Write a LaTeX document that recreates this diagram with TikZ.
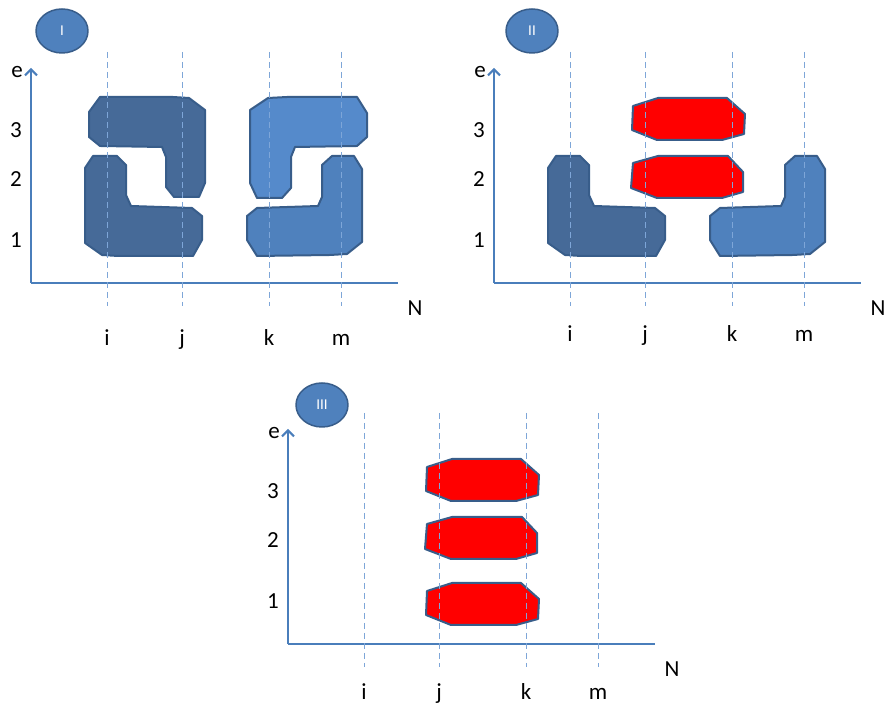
\documentclass[tikz,border=0pt]{standalone}
\usepackage{fontspec}
\setmainfont{Carlito}
\usetikzlibrary{arrows.meta,shapes.geometric}
\definecolor{axisblue}{HTML}{4A7EBB}
\definecolor{gridblue}{HTML}{7EA6D8}
\definecolor{edgeblue}{HTML}{385D8A}
\definecolor{darkpiece}{HTML}{466A98}
\definecolor{midpiece}{HTML}{4F81BD}
\definecolor{lightpiece}{HTML}{558ACB}
\begin{document}
\begin{tikzpicture}[x=0.5pt,y=-0.5pt,line join=round,>={Straight Barb[length=3pt,width=6pt]}]
  \tikzset{label style/.style={font=\fontsize{11.5}{13}\selectfont,inner sep=1pt},
    axis line/.style={axisblue,line width=1pt},
    grid line/.style={gridblue,line width=0.5pt,dash pattern=on 3pt off 2pt},
    piece/.style={draw=edgeblue,line width=1pt},
    tag/.style={ellipse,fill=midpiece,draw=edgeblue,line width=0.75pt,minimum width=26pt,
      minimum height=22pt,inner sep=0pt,text=white,font=\fontsize{7.5}{9}\selectfont}}
  \useasboundingbox (0,0) rectangle (885,704);
  % pieces, in the frame of panel I
  \def\darktop{(100,97)--(173,97)--(189,98)--(205,110)--(205,183)--(199,197)--(174,197)--(166,187)--(166,157)--(162,147)--(100,146)--(89,137)--(89,112)--cycle}
  \def\darkbot{(93,156)--(117,156)--(126,165)--(126,195)--(131,206)--(192,208)--(202,216)--(202,240)--(193,256)--(118,256)--(102,255)--(85,243)--(85,168)--cycle}
  \def\lighttop{(287,97)--(357,97)--(367,113)--(367,137)--(357,146)--(295,147)--(291,157)--(291,188)--(282,198)--(257,198)--(250,183)--(250,110)--(268,98)--cycle}
  \def\midbot{(332,156)--(354,156)--(362,169)--(362,242)--(347,254)--(330,255)--(257,256)--(247,240)--(247,216)--(257,208)--(318,206)--(322,197)--(322,165)--cycle}
  \def\redup{(170,106)--(195,98)--(264,98)--(282,114)--(281,134)--(259,140)--(194,140)--(169,130)--cycle}
  \def\redmid{(170,163)--(195,156)--(265,156)--(280,172)--(280,192)--(259,198)--(194,198)--(168,188)--cycle}
  % axes and labels of one panel: #1 panel, #2 baseline of i j k m
  \def\panelaxes#1#2{
    \coordinate (o#1) at (31,283);
    \coordinate (ytop#1) at (31,68);
    \coordinate (xend#1) at (398,283);
    \draw[axis line,->] (o#1) -- (ytop#1);
    \draw[axis line] (o#1) -- (xend#1);
    \node[label style] (e#1) at (17,72) {e};
    \node[label style] (N#1) at (415,308) {N};
    \foreach \y/\yy in {3/130,2/179,1/240}
      \node[label style] (t\y#1) at (16,\yy) {\y};
    \foreach \lab/\xx in {i/107,j/182,k/269,m/341}
      \node[label style,anchor=base] (\lab#1) at (\xx,#2) {\lab};
  }
  \def\gridlines{
    \foreach \xx in {107,182,269,341}
      \draw[grid line] (\xx,52) -- (\xx,306);
  }
  % panel I
  \begin{scope}
    \panelaxes{I}{346}
    \filldraw[piece,fill=darkpiece] \darktop;
    \filldraw[piece,fill=darkpiece] \darkbot;
    \filldraw[piece,fill=lightpiece] \lighttop;
    \filldraw[piece,fill=midpiece] \midbot;
    \gridlines
    \node[tag] (tagI) at (62,31) {I};
  \end{scope}
  % panel II
  \begin{scope}[shift={(463,0)}]
    \panelaxes{II}{342}
    \filldraw[piece,fill=darkpiece] \darkbot;
    \filldraw[piece,fill=midpiece] \midbot;
    \filldraw[piece,fill=red] \redup;
    \filldraw[piece,fill=red] \redmid;
    \gridlines
    \node[tag] (tagII) at (69,31) {II};
  \end{scope}
  % panel III
  \begin{scope}[shift={(257,361)}]
    \panelaxes{III}{339}
    \filldraw[piece,fill=red] \redup;
    \filldraw[piece,fill=red] \redmid;
    \begin{scope}[yshift=-62pt]
      \filldraw[piece,fill=red] \redup;
    \end{scope}
    \gridlines
    \node[tag] (tagIII) at (65,44) {III};
  \end{scope}
\end{tikzpicture}
\end{document}
